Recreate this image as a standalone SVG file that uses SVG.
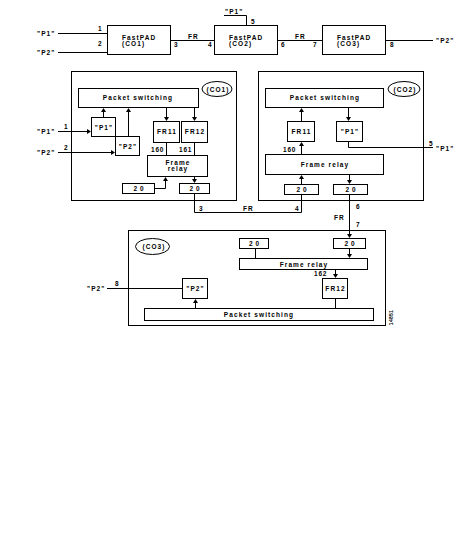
<svg xmlns="http://www.w3.org/2000/svg" width="468" height="541" viewBox="0 0 468 541">
<style>
rect,ellipse{fill:#fff;stroke:#000;stroke-width:1}
.c line,.c polyline{fill:none;stroke:#000;stroke-width:1}
.c polygon{fill:#000;stroke:none}
text{font-family:"Liberation Sans",Arial,sans-serif;font-size:6.5px;font-weight:bold;letter-spacing:1.1px;fill:#000}
.m{text-anchor:middle}
.w{letter-spacing:3px}
</style>
<rect x="0" y="0" width="468" height="541" style="stroke:none"/>

<g id="panel-co1">
<rect x="71.5" y="71.5" width="165" height="129"/>
<ellipse cx="217" cy="89" rx="15" ry="7.5"/>
<text class="m" x="218" y="91.5">(CO1)</text>
</g>
<g id="panel-co2">
<rect x="258.5" y="71.5" width="165" height="129"/>
<ellipse cx="404" cy="89" rx="16" ry="7.5"/>
<text class="m" x="405" y="91.5">(CO2)</text>
</g>
<g id="panel-co3">
<rect x="128.5" y="230.5" width="257" height="95"/>
<ellipse cx="152.5" cy="246.5" rx="17" ry="8"/>
<text class="m" x="154" y="249">(CO3)</text>
</g>

<g id="connectors" class="c">
<line x1="58" y1="33.5" x2="107" y2="33.5"/>
<line x1="58" y1="52.5" x2="107" y2="52.5"/>
<line x1="170" y1="40.5" x2="214" y2="40.5"/>
<line x1="278" y1="40.5" x2="322" y2="40.5"/>
<line x1="385" y1="40.5" x2="433" y2="40.5"/>
<polyline points="224,15.5 246.5,15.5 246.5,25"/>
<line x1="58" y1="131.5" x2="89" y2="131.5"/>
<polygon points="91,131.5 87,129 87,134"/>
<line x1="58" y1="152.5" x2="113" y2="152.5"/>
<polygon points="115,152.5 111,150 111,155"/>
<line x1="103.5" y1="117" x2="103.5" y2="110"/>
<polygon points="103.5,108 101,112 106,112"/>
<line x1="128.5" y1="136" x2="128.5" y2="110"/>
<polygon points="128.5,108 126,112 131,112"/>
<line x1="166.5" y1="108" x2="166.5" y2="119"/>
<polygon points="166.5,121 164,117 169,117"/>
<line x1="194.5" y1="108" x2="194.5" y2="119"/>
<polygon points="194.5,121 192,117 197,117"/>
<line x1="166.5" y1="142" x2="166.5" y2="155"/>
<line x1="194.5" y1="142" x2="194.5" y2="155"/>
<polyline points="154,188.5 165.5,188.5 165.5,179"/>
<polygon points="165.5,177 163,181 168,181"/>
<line x1="194.5" y1="177" x2="194.5" y2="181"/>
<polygon points="194.5,183 192,179 197,179"/>
<polyline points="194.5,193 194.5,212.5 301.5,212.5 301.5,194"/>
<line x1="301.5" y1="121" x2="301.5" y2="110"/>
<polygon points="301.5,108 299,112 304,112"/>
<line x1="348.5" y1="108" x2="348.5" y2="119"/>
<polygon points="348.5,121 346,117 351,117"/>
<polyline points="348.5,142 348.5,147.5 433,147.5"/>
<line x1="301.5" y1="154" x2="301.5" y2="144"/>
<polygon points="301.5,142 299,146 304,146"/>
<line x1="301.5" y1="184" x2="301.5" y2="177"/>
<polygon points="301.5,175 299,179 304,179"/>
<line x1="349.5" y1="175" x2="349.5" y2="182"/>
<polygon points="349.5,184 347,180 352,180"/>
<line x1="349.5" y1="194" x2="349.5" y2="236"/>
<polygon points="349.5,238 347,234 352,234"/>
<line x1="255.5" y1="248" x2="255.5" y2="258"/>
<line x1="349.5" y1="248" x2="349.5" y2="256"/>
<polygon points="349.5,258 347,254 352,254"/>
<line x1="335.5" y1="269" x2="335.5" y2="276"/>
<polygon points="335.5,278 333,274 338,274"/>
<line x1="335.5" y1="298" x2="335.5" y2="308"/>
<line x1="195.5" y1="308" x2="195.5" y2="301"/>
<polygon points="195.5,299 193,303 198,303"/>
<line x1="182" y1="288.5" x2="107" y2="288.5"/>
</g>

<g id="fastpad-co1">
<rect x="107.5" y="25.5" width="63" height="29"/>
<text x="122" y="39.5">FastPAD</text>
<text x="122" y="46">(CO1)</text>
</g>
<g id="fastpad-co2">
<rect x="214.5" y="25.5" width="63" height="29"/>
<text x="229" y="39.5">FastPAD</text>
<text x="229" y="46">(CO2)</text>
</g>
<g id="fastpad-co3">
<rect x="322.5" y="25.5" width="63" height="29"/>
<text x="337" y="39.5">FastPAD</text>
<text x="337" y="46">(CO3)</text>
</g>
<g id="top-labels">
<text x="37" y="35.5">"P1"</text>
<text x="98" y="31">1</text>
<text x="37" y="54.5">"P2"</text>
<text x="98" y="46">2</text>
<text x="174" y="46.5">3</text>
<text x="188" y="39">FR</text>
<text x="208" y="46.5">4</text>
<text x="281" y="46.5">6</text>
<text x="295" y="39">FR</text>
<text x="313" y="46.5">7</text>
<text x="390" y="46.5">8</text>
<text x="436" y="43">"P2"</text>
<text x="225" y="14">"P1"</text>
<text x="251" y="24">5</text>
</g>

<g id="co1-ps"><rect x="78.5" y="88.5" width="120" height="19"/><text class="m" x="138" y="100">Packet switching</text></g>
<g id="co1-p1"><rect x="91.5" y="117.5" width="24" height="19"/><text class="m" x="104" y="129.5">"P1"</text></g>
<g id="co1-p2"><rect x="115.5" y="136.5" width="24" height="19"/><text class="m" x="128" y="148.5">"P2"</text></g>
<g id="co1-fr11"><rect x="153.5" y="121.5" width="26" height="21"/><text class="m" x="167" y="134">FR11</text></g>
<g id="co1-fr12"><rect x="181.5" y="121.5" width="26" height="21"/><text class="m" x="195" y="134">FR12</text></g>
<g id="co1-fr"><rect x="147.5" y="155.5" width="60" height="21"/><text class="m" x="178" y="164.5">Frame</text><text class="m" x="178" y="171">relay</text></g>
<g id="co1-20a"><rect x="122.5" y="183.5" width="32" height="10"/><text class="m w" x="140" y="190.5">20</text></g>
<g id="co1-20b"><rect x="179.5" y="183.5" width="30" height="10"/><text class="m w" x="196" y="190.5">20</text></g>
<g id="co1-labels">
<text x="37" y="134">"P1"</text>
<text x="64" y="128.5">1</text>
<text x="37" y="154.5">"P2"</text>
<text x="64" y="149.5">2</text>
<text x="151" y="152" style="letter-spacing:0.8px">160</text>
<text x="179" y="152" style="letter-spacing:0.8px">161</text>
</g>

<g id="co2-ps"><rect x="265.5" y="88.5" width="118" height="19"/><text class="m" x="325" y="100">Packet switching</text></g>
<g id="co2-fr11"><rect x="287.5" y="121.5" width="27" height="20"/><text class="m" x="301.5" y="133.5">FR11</text></g>
<g id="co2-p1"><rect x="336.5" y="121.5" width="26" height="20"/><text class="m" x="350" y="133.5">"P1"</text></g>
<g id="co2-fr"><rect x="265.5" y="154.5" width="118" height="20"/><text class="m" x="325" y="166.5">Frame relay</text></g>
<g id="co2-20a"><rect x="284.5" y="184.5" width="34" height="10"/><text class="m w" x="303" y="191.5">20</text></g>
<g id="co2-20b"><rect x="333.5" y="184.5" width="34" height="10"/><text class="m w" x="352" y="191.5">20</text></g>
<g id="co2-labels">
<text x="283" y="152" style="letter-spacing:0.8px">160</text>
<text x="429" y="145.5">5</text>
<text x="436" y="150.5">"P1"</text>
<text x="199" y="210.5">3</text>
<text x="243" y="210.5">FR</text>
<text x="295" y="210.5">4</text>
<text x="356" y="209">6</text>
<text x="334" y="219.5">FR</text>
<text x="356" y="227">7</text>
</g>

<g id="co3-20a"><rect x="239.5" y="238.5" width="29" height="10"/><text class="m w" x="255.5" y="245.5">20</text></g>
<g id="co3-20b"><rect x="333.5" y="238.5" width="32" height="10"/><text class="m w" x="351" y="245.5">20</text></g>
<g id="co3-fr"><rect x="239.5" y="258.5" width="128" height="11"/><text class="m" x="304" y="266.5">Frame relay</text></g>
<g id="co3-fr12"><rect x="322.5" y="278.5" width="25" height="20"/><text class="m" x="335.5" y="290.5">FR12</text></g>
<g id="co3-p2"><rect x="182.5" y="278.5" width="25" height="20"/><text class="m" x="195.5" y="290.5">"P2"</text></g>
<g id="co3-ps"><rect x="144.5" y="308.5" width="229" height="12"/><text class="m" x="259" y="317">Packet switching</text></g>
<g id="co3-labels">
<text x="314" y="276" style="letter-spacing:0.8px">162</text>
<text x="115" y="286">8</text>
<text x="87" y="290.5">"P2"</text>
<text class="m" x="0" y="0" transform="translate(392.5,317.5) rotate(-90)" style="font-size:5px;letter-spacing:0.3px">14851</text>
</g>
</svg>
